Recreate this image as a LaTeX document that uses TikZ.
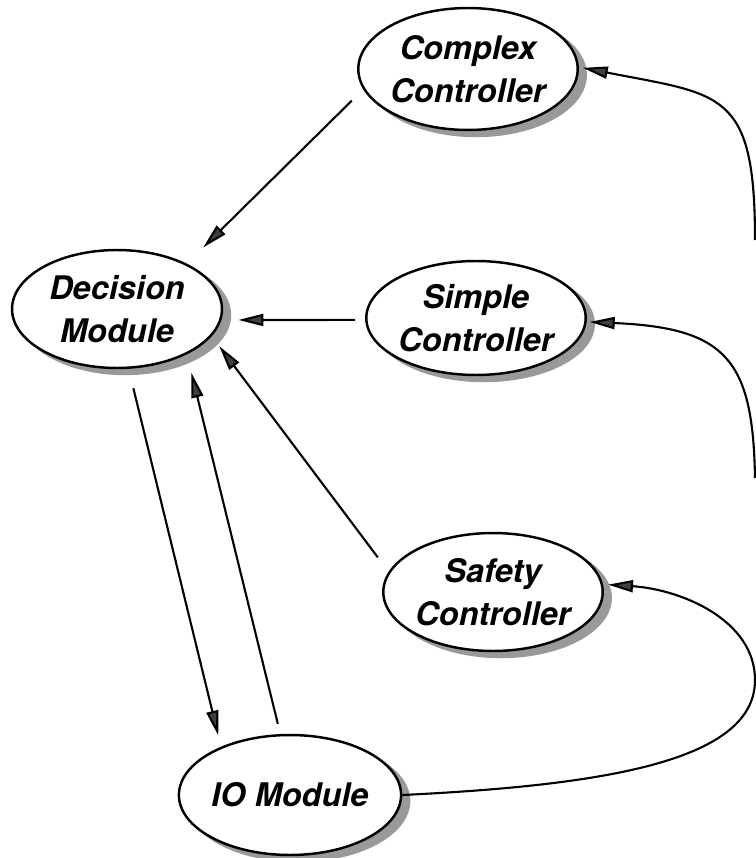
\documentclass[tikz,border=0pt]{standalone}
\usepackage{fontspec}
\setmainfont{TeX Gyre Heros}
\usetikzlibrary{arrows.meta,shapes.geometric,calc,backgrounds}

\begin{document}
\begin{tikzpicture}[x=0.02cm,y=0.02cm]
  \tikzset{>={Triangle[length=0.5cm,width=0.24cm,fill=black!75]}}
  \tikzstyle{module}=[ellipse,draw,line width=1.4pt,fill=white,align=center,inner sep=0pt,
    font=\bfseries\itshape\fontsize{18.5}{24.4}\selectfont]
  \tikzstyle{modshadow}=[fill=black!40,draw=none]
  \tikzstyle{link}=[->,line width=1.2pt]

  \useasboundingbox (0,0) rectangle (756,-858);

  % MODULES
  \node[module,minimum width=4.2cm,minimum height=2.44cm] (complex) at (468,-69) {Complex\\Controller};
  \node[module,minimum width=4.2cm,minimum height=2.36cm] (decision) at (117,-309) {Decision\\Module};
  \node[module,minimum width=4.16cm,minimum height=2.28cm] (simple) at (476,-318) {Simple\\Controller};
  \node[module,minimum width=4.2cm,minimum height=2.36cm] (safety) at (493,-592) {Safety\\Controller};
  \node[module,minimum width=4.12cm,minimum height=2.4cm] (io) at (290,-795) {IO Module};

  % SHADOWS
  \begin{scope}[on background layer]
    \foreach \mod in {complex,decision,simple,safety,io}
      \path let \p1=($(\mod.east)-(\mod.center)$), \p2=($(\mod.north)-(\mod.center)$) in
        [modshadow] ([shift={(0.16cm,-0.12cm)}]\mod.center) ellipse ({\x1} and {\y2});
  \end{scope}

  % LOOSE ENDS AT THE RIGHT BORDER
  \coordinate (complexEnd) at (755,-240);
  \coordinate (simpleEnd) at (755,-478);
  \coordinate (safetyTurn) at (755,-680);

  % STRAIGHT LINKS
  \draw[link,shorten <=0.32cm,shorten >=0.46cm] (complex.191) -- (decision.33.5);
  \draw[link,shorten <=0.2cm,shorten >=0.34cm] (simple.181) -- (decision.-6.7);
  \draw[link,shorten <=0.36cm,shorten >=0.25cm] (safety.169.8) -- (decision.-16.9);
  \draw[link,shorten <=0.4cm,shorten >=0.23cm] (decision.-79.2) -- (io.145.2);
  \draw[link,shorten <=0.21cm,shorten >=0.38cm] (io.99.9) -- (decision.-33.9);

  % CURVED LINKS
  \draw[link,shorten >=0.08cm] (complexEnd) .. controls +(0,150) and +(143,-28) .. (complex.1);
  \draw[link,shorten >=0.06cm] (simpleEnd) .. controls +(-2,118) and +(140,-6) .. (simple.-2);
  \draw[link,shorten >=0.1cm] (io.east) .. controls +(207,10) and +(0,-80) .. (safetyTurn)
    .. controls +(0,60) and +(78,-5) .. (safety.4);
\end{tikzpicture}
\end{document}
